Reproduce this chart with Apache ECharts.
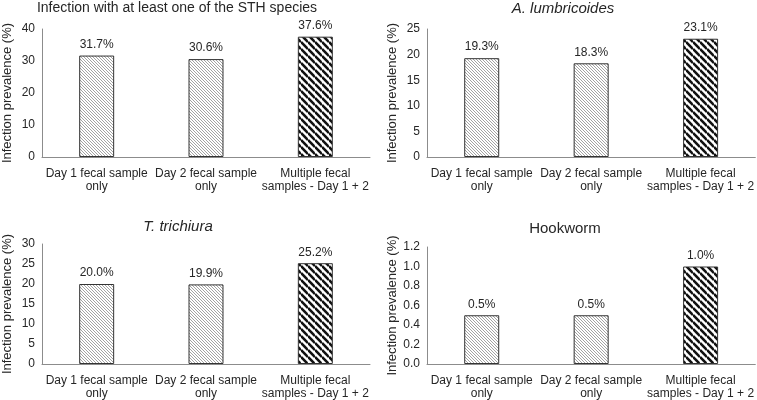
<!DOCTYPE html>
<html>
<head>
<meta charset="utf-8">
<script src="https://cdn.jsdelivr.net/npm/echarts@6/dist/echarts.min.js"></script>
<style>
  html, body { margin: 0; padding: 0; background: #fff; }
  #chart { width: 757px; height: 400px; }
</style>
</head>
<body>
<div id="chart"></div>
<script>
const categories = ["Day 1 fecal sample\nonly", "Day 2 fecal sample\nonly", "Multiple fecal\nsamples - Day 1 + 2"];
const panelTitles = ["Infection with at least one of the STH species", "A. lumbricoides", "T. trichiura", "Hookworm"];
const anySth = [31.7, 30.6, 37.6];
const ascaris = [19.3, 18.3, 23.1];
const trichuris = [20.0, 19.9, 25.2];
const hookworm = [0.5, 0.5, 1.0];
const yMax = [40, 25, 30, 1.2];
const yStep = [10, 5, 5, 0.2];
const yDecimals = [0, 0, 0, 1];
const yName = "Infection prevalence (%)";

const panels = [anySth, ascaris, trichuris, hookworm];

// where each panel sits on the page
const grids = [
  { left: 41, top: 29, width: 329, height: 128 },
  { left: 427, top: 29, width: 329, height: 128 },
  { left: 41, top: 244, width: 329, height: 121 },
  { left: 427, top: 247, width: 329, height: 119 },
];
const titlePos = [
  { left: 177, top: 1, size: 14, italic: false },
  { left: 563, top: 1, size: 15, italic: true },
  { left: 178, top: 219, size: 15, italic: true },
  { left: 565, top: 221, size: 15, italic: false },
];

const FONT = "'Liberation Sans', Arial, sans-serif";
const TEXT = "#262626";
const AXIS = "#8c8c8c";

// fine pixel hatch for the single-day bars
function pixelHatch(size, color) {
  const c = document.createElement("canvas");
  c.width = size;
  c.height = size;
  const ctx = c.getContext("2d");
  ctx.fillStyle = "#fff";
  ctx.fillRect(0, 0, size, size);
  ctx.fillStyle = color;
  for (let y = 0; y < size; y++) {
    ctx.fillRect(y % size, y, 1, 1);
  }
  return c;
}

// wide stripes for the combined bar
function hatch(size, width, color) {
  const c = document.createElement("canvas");
  c.width = size;
  c.height = size;
  const ctx = c.getContext("2d");
  ctx.fillStyle = "#fff";
  ctx.fillRect(0, 0, size, size);
  ctx.strokeStyle = color;
  ctx.lineWidth = width;
  for (const off of [-size, 0, size]) {
    ctx.beginPath();
    ctx.moveTo(0, off);
    ctx.lineTo(size, off + size);
    ctx.stroke();
  }
  return c;
}

const fineHatch = { image: pixelHatch(3, "#a3a3a3"), repeat: "repeat" };
const boldHatch = { image: hatch(7, 2.6, "#111"), repeat: "repeat" };

const chart = echarts.init(document.getElementById("chart"));

chart.setOption({
  animation: false,
  backgroundColor: "#fff",
  textStyle: { fontFamily: FONT, color: TEXT },
  title: titlePos.map((t, i) => ({
    text: panelTitles[i],
    left: t.left,
    top: t.top,
    padding: 0,
    textAlign: "center",
    textStyle: {
      fontFamily: FONT,
      fontSize: t.size,
      fontWeight: "normal",
      fontStyle: t.italic ? "italic" : "normal",
      color: TEXT,
    },
  })),
  grid: grids,
  xAxis: grids.map((g, i) => ({
    type: "category",
    gridIndex: i,
    data: categories,
    axisTick: { show: false },
    axisLine: { lineStyle: { color: AXIS, width: 1 } },
    axisLabel: {
      color: TEXT,
      fontFamily: FONT,
      fontSize: 12,
      lineHeight: 13,
      margin: 10,
      interval: 0,
    },
  })),
  yAxis: grids.map((g, i) => ({
    type: "value",
    gridIndex: i,
    min: 0,
    max: yMax[i],
    interval: yStep[i],
    name: yName,
    nameLocation: "middle",
    nameGap: 28,
    nameTextStyle: { fontFamily: FONT, fontSize: 13, color: TEXT },
    axisLine: { show: true, lineStyle: { color: AXIS, width: 1 } },
    axisTick: { show: false },
    splitLine: { show: false },
    axisLabel: {
      color: TEXT,
      fontFamily: FONT,
      fontSize: 12,
      margin: 7,
      formatter: (v) => v.toFixed(yDecimals[i]),
    },
  })),
  series: panels.map((values, i) => ({
    type: "bar",
    xAxisIndex: i,
    yAxisIndex: i,
    barWidth: "32%",
    data: values.map((v, k) => ({
      value: v,
      itemStyle: { color: k === values.length - 1 ? boldHatch : fineHatch },
    })),
    itemStyle: { borderColor: "#333", borderWidth: 1 },
    label: {
      show: true,
      position: "top",
      distance: 5,
      fontFamily: FONT,
      fontSize: 12,
      color: TEXT,
      formatter: (p) => p.value.toFixed(1) + "%",
    },
  })),
});
</script>
</body>
</html>
